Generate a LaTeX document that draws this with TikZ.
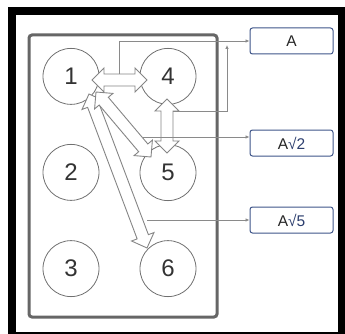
\documentclass[tikz,border=0pt]{standalone}
\usepackage{fontspec}
\setmainfont{Liberation Sans}
\usetikzlibrary{matrix,calc,arrows.meta,positioning}

\definecolor{ringgray}{HTML}{707070}
\definecolor{panelgray}{HTML}{666666}
\definecolor{linkgray}{HTML}{8A8A8A}
\definecolor{boxblue}{HTML}{3E5488}
\definecolor{textblue}{HTML}{2C3E6E}

\tikzset{
  circ/.style={circle, draw=ringgray, line width=0.8pt, minimum size=56pt,
    inner sep=0pt, font=\fontsize{24}{24}\selectfont, text=black!80},
  lbl/.style={rectangle, rounded corners=2.5pt, draw=boxblue, line width=1pt,
    minimum width=83pt, minimum height=26pt, inner sep=0pt,
    font=\fontsize{15.5}{15.5}\selectfont, text=black!85},
  link/.style={draw=linkgray, line width=0.7pt, -{Latex[length=4pt,width=3.5pt]}},
  hollow/.style={draw=ringgray!85, line width=0.9pt, fill=white, line join=miter},
}

% hollow block arrow with a head at both ends
\newcommand{\dblarrow}[2]{%
  \coordinate (ha) at ($(#1)!12pt!(#2)$);
  \coordinate (hb) at ($(#2)!12pt!(#1)$);
  \draw[hollow] (#1) -- ($(ha)!12pt!90:(#2)$) -- ($(ha)!6pt!90:(#2)$)
    -- ($(hb)!6pt!-90:(#1)$) -- ($(hb)!12pt!-90:(#1)$) -- (#2)
    -- ($(hb)!12pt!90:(#1)$) -- ($(hb)!6pt!90:(#1)$)
    -- ($(ha)!6pt!-90:(#2)$) -- ($(ha)!12pt!-90:(#2)$) -- cycle;
}

\begin{document}
\begin{tikzpicture}[x=1pt, y=-1pt]
	\useasboundingbox (0,0) rectangle (345,334);
	\draw[line width=7.5pt] (11.75,11) rectangle (342,336);
	\draw[panelgray, line width=3pt, rounded corners=3pt] (29,35) rectangle (217,317);

	\matrix[matrix of nodes, name=sites, nodes={circ},
	  column sep=40.2pt, row sep=39.2pt] at (119.5,172.5) {
	1 & 4 \\
	2 & 5 \\
	3 & 6 \\ };

	% distances
	\coordinate (p14) at (92,80);  \coordinate (q14) at (147,80);
	\coordinate (p45) at (167,99); \coordinate (q45) at (167,153);
	\coordinate (p16) at (89,94);  \coordinate (q16) at (147,248);
	\coordinate (p15) at (96,92);  \coordinate (q15) at (151,157);
	\dblarrow{p14}{q14}
	\dblarrow{p45}{q45}
	\dblarrow{p16}{q16}
	\dblarrow{p15}{q15}

	\node[lbl] (lblA) at (291.5,41) {A};
	\node[lbl] (lblB) at (291.5,143) {A{\color{textblue}√2}};
	\node[lbl] (lblC) at (291.5,220) {A{\color{textblue}√5}};

	\coordinate (s14) at (119,74);
	\coordinate (s45) at (173,111);
	\coordinate (j45) at (227,45);
	\coordinate (s15) at (143,137);
	\coordinate (s16) at (147,220);
	\draw[link] (s14) |- (lblA);
	\draw[link] (s45) -| (j45);
	\draw[link] (s15) -- (s15 -| lblB.west);
	\draw[link] (s16) -- (lblC);
\end{tikzpicture}
\end{document}
